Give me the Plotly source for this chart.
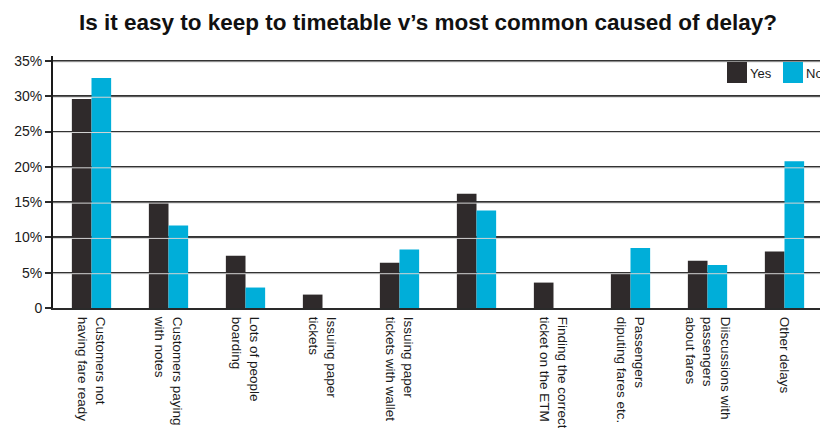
import plotly.graph_objects as go

# Delay causes (x categories); the sixth category has no label
categories = [
    "Customers not<br>having fare ready",
    "Customers paying<br>with notes",
    "Lots of people<br>boarding",
    "Issuing paper<br>tickets",
    "Issuing paper<br>tickets with wallet",
    "",
    "Finding the correct<br>ticket on the ETM",
    "Passengers<br>diputing fares etc.",
    "Diiscussions with<br>passengers<br>about fares",
    "Other delays",
]
series_names = ["Yes", "No"]
yes_values = [29.6, 15.0, 7.4, 1.9, 6.4, 16.2, 3.6, 4.9, 6.7, 8.0]
no_values = [32.6, 11.7, 2.9, 0.0, 8.3, 13.8, 0.0, 8.5, 6.1, 20.8]
y_ticks = [0, 5, 10, 15, 20, 25, 30, 35]
y_tick_labels = ["0", "5%", "10%", "15%", "20%", "25%", "30%", "35%"]

W, H = 820, 428
M_L, M_R, M_T, M_B = 53, 0, 56, 120
PLOT_W = W - M_L - M_R
PLOT_H = H - M_T - M_B
CAT_PX = 77.0
Y_MAX = 35.7
FONT = "Liberation Sans, Arial, Helvetica, sans-serif"
TEXT = "#1a1a1a"
COLORS = ["#2f2a2b", "#00aed9"]

x_pos = list(range(len(categories)))

fig = go.Figure()
for name, vals, col in zip(series_names, [yes_values, no_values], COLORS):
    fig.add_trace(go.Bar(x=x_pos, y=vals, name=name, marker=dict(color=col, line=dict(width=0))))


def px_x(px):
    return (px - M_L) / PLOT_W


def px_y(py):
    return (M_T + PLOT_H - py) / PLOT_H


shapes = []
# light highlight just under each gridline, drawn over the bars
one_px = Y_MAX / PLOT_H
for v in y_ticks[1:]:
    shapes.append(dict(type="line", xref="paper", yref="y", x0=0, x1=1,
                       y0=v - one_px, y1=v - one_px,
                       line=dict(color="#d4d4d4", width=1), layer="above"))

# hand-made legend with large square swatches
legend_px = [(727, 747), (783, 803)]
annotations = []
for (x0, x1), name, col in zip(legend_px, series_names, COLORS):
    shapes.append(dict(type="rect", xref="paper", yref="paper",
                       x0=px_x(x0), x1=px_x(x1), y0=px_y(83), y1=px_y(62),
                       fillcolor=col, line=dict(width=0), layer="above"))
    annotations.append(dict(xref="paper", yref="paper", x=px_x(x1 + 1), y=px_y(73),
                            xanchor="left", yanchor="middle", text=name, showarrow=False,
                            font=dict(family=FONT, size=13, color=TEXT)))

fig.update_layout(
    width=W, height=H,
    margin=dict(l=M_L, r=M_R, t=M_T, b=M_B),
    paper_bgcolor="white", plot_bgcolor="white",
    barmode="group", bargap=0.49, bargroupgap=0,
    showlegend=False,
    title=dict(text="Is it easy to keep to timetable v\u2019s most common caused of delay?",
               x=428 / W, xref="container", xanchor="center",
               y=1 - 22 / H, yref="container", yanchor="middle",
               font=dict(family=FONT, size=22.5, color="#111111", weight="bold")),
    xaxis=dict(range=[-0.5, -0.5 + PLOT_W / CAT_PX], tickvals=x_pos, ticktext=categories,
               tickangle=90, ticks="", showgrid=False, zeroline=False,
               showline=True, linecolor="#2a2a2a", linewidth=2,
               ticklabelstandoff=4,
               tickfont=dict(family=FONT, size=13.5, color=TEXT)),
    yaxis=dict(range=[0, Y_MAX], tickvals=y_ticks, ticktext=y_tick_labels,
               ticks="outside", ticklen=6, tickwidth=1.5, tickcolor="#2a2a2a",
               showgrid=True, gridcolor="#333333", gridwidth=1.6, zeroline=False,
               showline=True, linecolor="#1a1a1a", linewidth=2,
               tickfont=dict(family=FONT, size=14, color=TEXT)),
    shapes=shapes,
    annotations=annotations,
)

fig.write_html("out.html")
